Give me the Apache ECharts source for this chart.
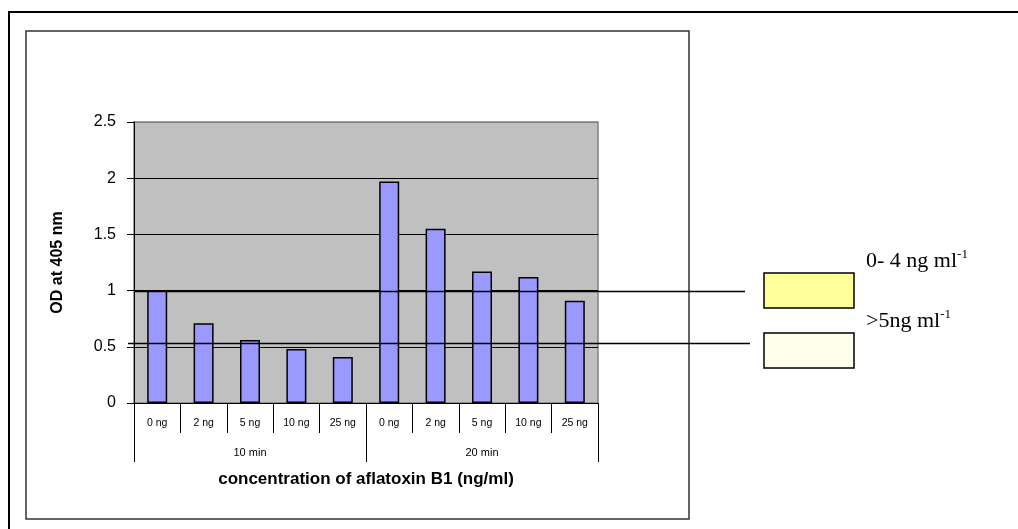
<!DOCTYPE html>
<html>
<head>
<meta charset="utf-8">
<script src="https://cdn.jsdelivr.net/npm/echarts@6/dist/echarts.min.js"></script>
<style>
html,body{margin:0;padding:0;background:#fff;}
#chart{width:1018px;height:529px;}
</style>
</head>
<body>
<div id="chart"></div>
<script>
// ---- data ----
const categories = ['0 ng','2 ng','5 ng','10 ng','25 ng','0 ng','2 ng','5 ng','10 ng','25 ng'];
const groups = ['10 min','20 min'];
const odValues = [1.00, 0.71, 0.56, 0.48, 0.41, 1.97, 1.55, 1.17, 1.12, 0.91];
const yTicks = [0, 0.5, 1, 1.5, 2, 2.5];
const refLines = [1.0, 0.53];
const legendLabels = ['0- 4 ng ml', '>5ng ml'];
const legendSup = ['-1', '-1'];
const legendColors = ['#FFFF99', '#FFFFEE'];

const chart = echarts.init(document.getElementById('chart'), null, {renderer:'canvas'});
const SANS = 'Liberation Sans, Arial, sans-serif';
const SERIF = 'Liberation Serif, Times New Roman, serif';

const option = {
  backgroundColor: '#ffffff',
  animation: false,
  grid: {
    left: 134, top: 122, width: 464, height: 281,
    show: true, backgroundColor: '#C0C0C0', borderColor: '#808080', borderWidth: 1.5
  },
  xAxis: [
    {
      type: 'category', data: categories, position: 'bottom',
      axisLine: {lineStyle: {color: '#000', width: 1}},
      axisTick: {show: true, interval: 0, length: 30, lineStyle: {color: '#000'}},
      axisLabel: {interval: 0, margin: 15, color: '#000', fontFamily: SANS, fontSize: 10.5},
      splitLine: {show: false}
    },
    {
      type: 'category', data: groups, position: 'bottom', offset: 30,
      axisLine: {show: false},
      axisTick: {show: true, interval: 0, length: 29, lineStyle: {color: '#000'}},
      axisLabel: {interval: 0, margin: 14, color: '#000', fontFamily: SANS, fontSize: 11},
      name: 'concentration of aflatoxin B1 (ng/ml)', nameLocation: 'middle', nameGap: 38,
      nameTextStyle: {color: '#000', fontFamily: SANS, fontSize: 17, fontWeight: 'bold'}
    }
  ],
  yAxis: {
    type: 'value', min: yTicks[0], max: yTicks[yTicks.length-1], interval: 0.5,
    axisLine: {show: true, lineStyle: {color: '#000', width: 1}},
    axisTick: {show: true, length: 7, lineStyle: {color: '#000'}},
    axisLabel: {color: '#000', fontFamily: SANS, fontSize: 16, margin: 18},
    splitLine: {show: true, lineStyle: {color: ['#000','#000','#000','#000','#000','#808080'], width: 1}},
    name: 'OD at 405 nm', nameLocation: 'middle', nameGap: 68, nameRotate: 90,
    nameTextStyle: {color: '#000', fontFamily: SANS, fontSize: 16, fontWeight: 'bold'}
  },
  series: [{
    type: 'bar', data: odValues, barWidth: 20, xAxisIndex: 0,
    itemStyle: {color: '#9999FF', borderColor: '#000', borderWidth: 1.5}
  }]
};
chart.setOption(option);

// overlay graphics: frames, reference lines (positioned through the y scale), legend boxes
const lineEnds = [[134, 745], [128, 750]];
const graphics = [
  {type:'rect', z: 0, shape:{x:9, y:12, width:1030, height:540}, style:{fill:null, stroke:'#000', lineWidth:2}, silent:true},
  {type:'rect', z: 0, shape:{x:26, y:31, width:663, height:488}, style:{fill:null, stroke:'#333', lineWidth:1.5}, silent:true}
];
refLines.forEach((v, i) => {
  const py = Math.round(chart.convertToPixel({yAxisIndex: 0}, v)) + 0.5;
  graphics.push({type:'line', z: 100, shape:{x1: lineEnds[i][0], y1: py, x2: lineEnds[i][1], y2: py},
    style:{stroke:'#000', lineWidth:1.5}, silent:true});
});
const boxTops = [273, 333];
const textTops = [248, 308];
legendLabels.forEach((t, i) => {
  graphics.push({type:'rect', z: 100, shape:{x:764, y:boxTops[i], width:90, height:35},
    style:{fill:legendColors[i], stroke:'#000', lineWidth:1.5}, silent:true});
  graphics.push({type:'text', z: 100, x: 866, y: textTops[i], silent:true,
    style:{text: '{a|' + t + '}{s|' + legendSup[i] + '}', verticalAlign:'top', align:'left',
      rich:{
        a:{fontFamily:SERIF, fontSize:22, fill:'#000', lineHeight:24, verticalAlign:'bottom'},
        s:{fontFamily:SERIF, fontSize:13, fill:'#000', lineHeight:24, verticalAlign:'top', padding:[0,0,11,0]}
      }}});
});
chart.setOption({graphic: graphics});
</script>
</body>
</html>
